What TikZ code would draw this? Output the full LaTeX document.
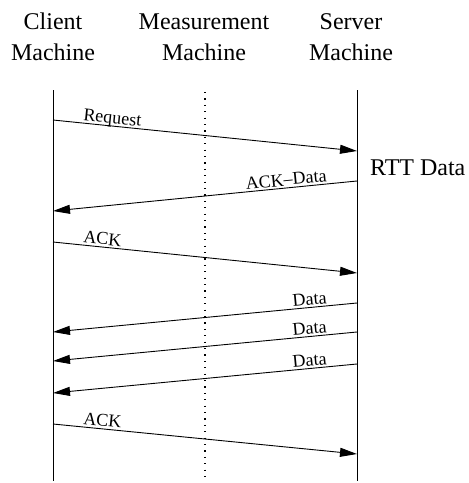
\documentclass[tikz,border=0pt]{standalone}
\usepackage{fontspec}
\setmainfont{Liberation Serif}
\usetikzlibrary{arrows.meta}
\begin{document}
\begin{tikzpicture}[x=1pt,y=-1pt,
 life/.style={line width=1pt},
 meas/.style={line width=1.2pt, dash pattern=on 1.2pt off 5.2pt},
 msg/.style={line width=0.9pt, -{Triangle[length=17pt,width=9pt]}},
 rmsg/.style={line width=0.9pt, {Triangle[length=17pt,width=9pt]}-},
 lab/.style={font=\fontsize{18}{20}\selectfont, inner sep=2pt, text depth=0pt, sloped},
 head/.style={font=\fontsize{24}{28}\selectfont, anchor=base, inner sep=0pt}]
\useasboundingbox (0,0) rectangle (469,483);
% headers
\node[head] (cl1) at (53,29.3) {Client};
\node[head] (cl2) at (53,60) {Machine};
\node[head] (ml1) at (204,29.3) {Measurement};
\node[head] (ml2) at (204,60) {Machine};
\node[head] (sl1) at (351,29.3) {Server};
\node[head] (sl2) at (351,60) {Machine};
% lifelines
\coordinate (ct) at (53,90);
\coordinate (cb) at (53,481);
\coordinate (st) at (357,90);
\coordinate (sb) at (357,481);
\coordinate (mt) at (205,92);
\coordinate (mb) at (205,481);
\draw[life] (ct) -- (cb);
\draw[life] (st) -- (sb);
\draw[meas] (mt) -- (mb);
% message endpoints
\coordinate (c1) at (53,120);  \coordinate (s1) at (357,151);
\coordinate (s2) at (357,181); \coordinate (c2) at (53,211);
\coordinate (c3) at (53,242);  \coordinate (s3) at (357,273);
\coordinate (s4) at (357,303); \coordinate (c4) at (53,332);
\coordinate (s5) at (357,332); \coordinate (c5) at (53,361);
\coordinate (s6) at (357,364); \coordinate (c6) at (53,393);
\coordinate (c7) at (53,424);  \coordinate (s7) at (357,454);
% messages
\draw[msg] (c1) -- node[lab, pos=0.09, anchor=south west] {Request} (s1);
\draw[rmsg] (c2) -- node[lab, pos=0.91, anchor=south east] {ACK--Data} (s2);
\draw[msg] (c3) -- node[lab, pos=0.09, anchor=south west] {ACK} (s3);
\draw[rmsg] (c4) -- node[lab, pos=0.91, anchor=south east] {Data} (s4);
\draw[rmsg] (c5) -- node[lab, pos=0.91, anchor=south east] {Data} (s5);
\draw[rmsg] (c6) -- node[lab, pos=0.91, anchor=south east] {Data} (s6);
\draw[msg] (c7) -- node[lab, pos=0.09, anchor=south west] {ACK} (s7);
% RTT label
\node[head, anchor=base west] (rtt) at (370,175) {RTT Data};
\end{tikzpicture}
\end{document}
